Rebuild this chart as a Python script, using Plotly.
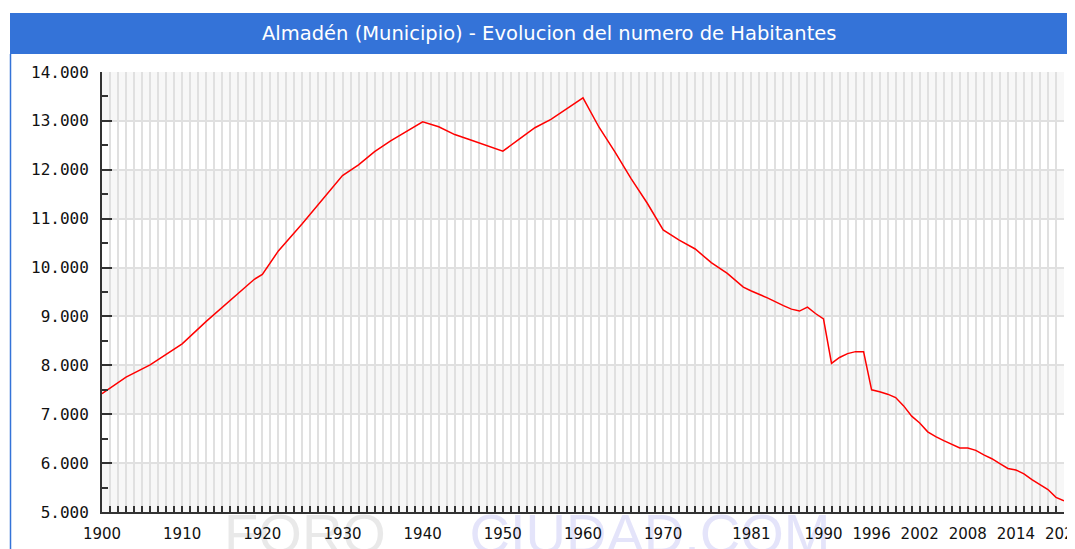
import plotly.graph_objects as go

# ---- data ----
years = [1900, 1903, 1906, 1908, 1910, 1913, 1915, 1917, 1919, 1920,
         1922, 1925, 1927, 1929, 1930, 1932, 1934, 1936, 1938, 1940,
         1942, 1944, 1946, 1948, 1950, 1952, 1954, 1956, 1958, 1960,
         1962, 1964, 1966, 1968, 1970, 1972, 1974, 1976, 1978, 1980,
         1981, 1983, 1985, 1986, 1987, 1988, 1989, 1990, 1991, 1992,
         1993, 1994, 1995, 1996, 1997, 1998, 1999, 2000, 2001, 2002,
         2003, 2004, 2005, 2006, 2007, 2008, 2009, 2010, 2011, 2012,
         2013, 2014, 2015, 2016, 2017, 2018, 2019, 2020]
habitantes = [7420, 7760, 8010, 8230, 8440, 8900, 9180, 9480, 9760, 9860,
              10340, 10900, 11300, 11700, 11880, 12100, 12370, 12590, 12780, 12980,
              12880, 12720, 12610, 12500, 12380, 12620, 12860, 13030, 13250, 13470,
              12870, 12360, 11820, 11320, 10770, 10560, 10380, 10100, 9880, 9600,
              9520, 9380, 9220, 9150, 9110, 9190, 9060, 8950, 8040, 8160,
              8240, 8280, 8280, 7500, 7460, 7410, 7340, 7170, 6960, 6820,
              6640, 6540, 6460, 6380, 6310, 6310, 6260, 6170, 6090, 5990,
              5890, 5860, 5780, 5660, 5560, 5460, 5300, 5230]
x_labels = [1900, 1910, 1920, 1930, 1940, 1950, 1960, 1970, 1981, 1990,
            1996, 2002, 2008, 2014, 2020]
y_ticks = [5000, 6000, 7000, 8000, 9000, 10000, 11000, 12000, 13000, 14000]
title_text = "Almadén (Municipio) - Evolucion del numero de Habitantes"

# page has an 8px body margin: work in screen pixels, convert to figure
OFF = 8
SCREEN_W, SCREEN_H = 1075, 549
W, H = SCREEN_W - OFF, SCREEN_H - OFF
PL, PR, PT, PB = 102, 1064, 72, 512          # plot area in screen pixels
L, R, T, B = PL - OFF, W - (PR - OFF), PT - OFF, H - (PB - OFF)
pw, ph = W - L - R, H - T - B


def px_x(x):
    return (x - PL) / pw


def px_y(y):
    return (PB - y) / ph


fig = go.Figure()
fig.add_trace(go.Scatter(x=years, y=habitantes, mode="lines",
                         line=dict(color="#ff0000", width=1.5),
                         hoverinfo="x+y", showlegend=False))

shapes = []
# alternating bands
for i in range(len(y_ticks) - 1):
    if i % 2 == 0:
        shapes.append(dict(type="rect", xref="x domain", yref="y",
                           x0=0, x1=1, y0=y_ticks[i], y1=y_ticks[i + 1],
                           fillcolor="#f7f7f7", line=dict(width=0), layer="below"))
# title bar
shapes.append(dict(type="rect", xref="paper", yref="paper",
                   x0=px_x(10), x1=px_x(1080), y0=px_y(54), y1=px_y(13),
                   fillcolor="#3473d8", line=dict(width=0), layer="below"))
# left border line
shapes.append(dict(type="line", xref="paper", yref="paper",
                   x0=px_x(10.5), x1=px_x(10.5), y0=px_y(54), y1=px_y(560),
                   line=dict(color="#3473d8", width=1.5), layer="below"))
# watermark
shapes.append(dict(type="rect", xref="paper", yref="paper",
                   x0=px_x(198), x1=px_x(412), y0=px_y(556), y1=px_y(500),
                   line=dict(width=0), fillcolor="rgba(0,0,0,0)", layer="below",
                   label=dict(text="FORO", textposition="middle center",
                              font=dict(family="Liberation Sans", size=56, color="#e9e9e9"))))
shapes.append(dict(type="rect", xref="paper", yref="paper",
                   x0=px_x(450), x1=px_x(850), y0=px_y(556), y1=px_y(500),
                   line=dict(width=0), fillcolor="rgba(0,0,0,0)", layer="below",
                   label=dict(text="CIUDAD.COM", textposition="middle center",
                              font=dict(family="Liberation Sans", size=56, color="#e4e4fa"))))

fig.update_layout(
    width=W, height=H,
    margin=dict(l=L, r=R, t=T, b=B, pad=0, autoexpand=False),
    paper_bgcolor="white", plot_bgcolor="white",
    separators=",.",
    shapes=shapes,
    annotations=[dict(text=title_text, xref="paper", yref="paper",
                      x=px_x(549), y=px_y(34), xanchor="center", yanchor="middle",
                      showarrow=False,
                      font=dict(family="DejaVu Sans", size=19.5, color="white"))],
)
fig.update_xaxes(range=[1900, 2020], tickmode="array", tickvals=x_labels,
                 ticktext=[str(v) for v in x_labels], automargin=False,
                 ticks="inside", ticklen=6, tickwidth=2, tickcolor="#333",
                 showline=True, linecolor="#333", linewidth=2,
                 showgrid=True, gridcolor="#e0e0e0", gridwidth=1.5,
                 zeroline=False, ticklabelstandoff=7, ticklabeloverflow="allow",
                 tickfont=dict(family="DejaVu Sans", size=15, color="#111"),
                 minor=dict(tick0=1900, dtick=1, ticks="inside", ticklen=6,
                            tickwidth=2, tickcolor="#333", showgrid=True,
                            gridcolor="#e0e0e0", gridwidth=1.5))
fig.update_yaxes(range=[5000, 14000], tickmode="array", tickvals=y_ticks,
                 tickformat=",d", automargin=False,
                 ticks="inside", ticklen=10, tickwidth=2, tickcolor="#333",
                 showline=True, linecolor="#333", linewidth=2,
                 showgrid=True, gridcolor="#e0e0e0", gridwidth=2,
                 zeroline=False, ticklabelstandoff=8,
                 tickfont=dict(family="DejaVu Sans Mono", size=16, color="#111"),
                 minor=dict(tick0=5000, dtick=500, ticks="inside", ticklen=6,
                            tickwidth=2, tickcolor="#333", showgrid=False))

fig.write_html("out.html")
